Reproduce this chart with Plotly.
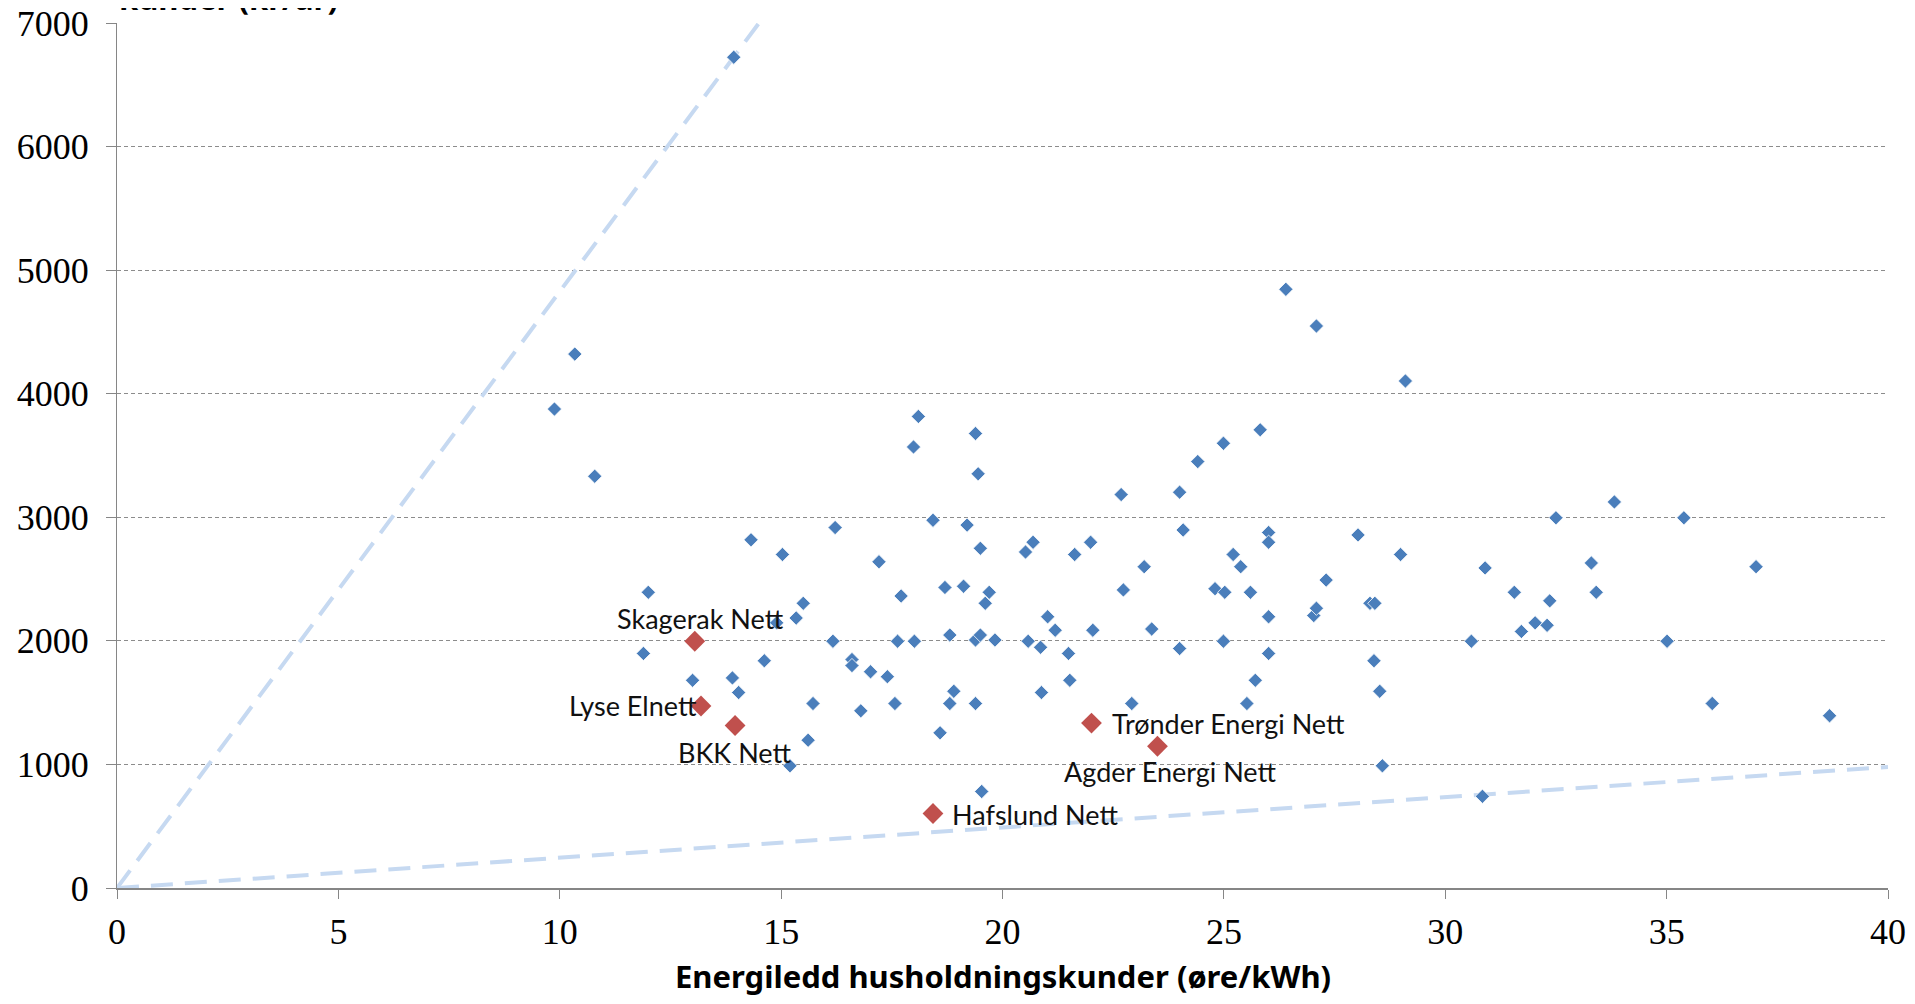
import plotly.graph_objects as go

# Blue points: (energiledd øre/kWh, fastledd kr/år)
blue_x = [13.93, 10.34, 9.88, 10.79, 12.0, 11.89, 13.0, 13.9, 14.04, 14.32, 15.03, 14.9, 14.62, 15.34,
          15.5, 15.2, 15.61, 15.72, 16.22, 16.17, 16.6, 16.6, 16.8, 17.02, 17.21, 17.4, 17.57, 17.63,
          17.71, 17.99, 18.1, 18.01, 18.43, 18.59, 18.7, 18.81, 18.81, 18.9, 19.12, 19.2, 19.39, 19.45,
          19.5, 19.61, 19.39, 19.39, 19.5, 19.7, 19.83, 19.53, 20.52, 20.69, 20.58, 20.86, 20.88, 21.02,
          21.19, 21.49, 21.52, 21.63, 21.99, 22.04, 22.68, 22.73, 22.92, 23.2, 23.37, 24.0, 24.08, 24.0,
          24.41, 24.8, 25.02, 24.99, 24.99, 25.21, 25.38, 25.52, 25.6, 25.71, 25.82, 26.01, 26.01, 26.01,
          26.01, 26.4, 27.09, 27.03, 27.09, 27.31, 28.03, 28.3, 28.41, 28.39, 28.52, 28.58, 28.99, 29.1,
          30.59, 30.9, 30.84, 31.56, 31.72, 32.03, 32.3, 32.36, 32.5, 33.3, 33.41, 33.82, 35.01, 35.39,
          36.03, 37.02, 38.68]
blue_y = [6723, 4321, 3876, 3332, 2393, 1898, 1681, 1700, 1582, 2818, 2699, 2146, 1839, 2185,
          2304, 989, 1196, 1493, 2917, 1997, 1849, 1800, 1434, 1750, 2640, 1710, 1493, 1997,
          2363, 3569, 3816, 1997, 2976, 1256, 2432, 2047, 1493, 1592, 2442, 2937, 3678, 3352,
          2749, 2304, 1493, 2007, 2047, 2393, 2007, 781, 2719, 2798, 1997, 1948, 1582, 2195,
          2086, 1898, 1681, 2699, 2798, 2086, 3184, 2412, 1493, 2600, 2096, 3203, 2897, 1938,
          3451, 2422, 2393, 3599, 1997, 2699, 2600, 1493, 2393, 1681, 3708, 2877, 2798, 2195,
          1898, 4845, 4548, 2205, 2264, 2492, 2857, 2304, 2304, 1839, 1592, 989, 2699, 4103,
          1997, 2590, 742, 2393, 2076, 2146, 2126, 2324, 2996, 2630, 2393, 3124, 1997, 2996,
          1493, 2600, 1394]

# Highlighted companies
red_names = ["Skagerak Nett", "Lyse Elnett", "BKK Nett", "Trønder Energi Nett", "Agder Energi Nett", "Hafslund Nett"]
red_x = [13.05, 13.19, 13.96, 22.01, 23.5, 18.43]
red_y = [1997, 1473, 1315, 1335, 1147, 603]

# Reference lines through origin
upper_line_x = [0, 14.5]
upper_line_y = [0, 7000]
lower_line_x = [0, 40]
lower_line_y = [0, 980]

x_ticks = [0, 5, 10, 15, 20, 25, 30, 35, 40]
y_ticks = [0, 1000, 2000, 3000, 4000, 5000, 6000, 7000]

x_title = "Energiledd husholdningskunder (øre/kWh)"
y_title = "kunder (kr/år)"

# label placement (layout only): xanchor, yanchor, xshift, yshift
label_place = [
    ("center", "bottom", 6, 4),
    ("right", "middle", -2, 0),
    ("center", "top", 0, -8),
    ("left", "middle", 19, 0),
    ("center", "top", 13, -7),
    ("left", "middle", 17, -1),
]

W, H = 1899, 988
L, R, T, B = 109, 19, 15, 108

fig = go.Figure()

line_style = dict(color="#C6D9F1", width=4, dash="22px,12px")
fig.add_trace(go.Scatter(x=upper_line_x, y=upper_line_y, mode="lines", line=line_style,
                         hoverinfo="skip", showlegend=False))
fig.add_trace(go.Scatter(x=lower_line_x, y=lower_line_y, mode="lines", line=line_style,
                         hoverinfo="skip", showlegend=False))

fig.add_trace(go.Scatter(
    x=blue_x, y=blue_y, mode="markers",
    marker=dict(symbol="diamond", size=11, color="#4A7EBB", line=dict(color="white", width=0.8)),
    showlegend=False))

fig.add_trace(go.Scatter(
    x=red_x, y=red_y, mode="markers",
    marker=dict(symbol="diamond", size=16, color="#C0504D"),
    showlegend=False, cliponaxis=False))

for name, xv, yv, (xa, ya, xs, ys) in zip(red_names, red_x, red_y, label_place):
    fig.add_annotation(x=xv, y=yv, text=name, showarrow=False, xanchor=xa, yanchor=ya,
                       xshift=xs, yshift=ys,
                       font=dict(family="Lato", size=27, color="#111111"))

fig.update_layout(
    width=W, height=H,
    margin=dict(l=L, r=R, t=T, b=B, autoexpand=False),
    paper_bgcolor="white", plot_bgcolor="white",
    font=dict(family="Liberation Serif", size=36, color="black"),
)

fig.update_xaxes(
    range=[0, 40], tickvals=x_ticks, ticktext=[str(v) for v in x_ticks],
    showgrid=False, zeroline=False,
    showline=True, linecolor="#868686", linewidth=2,
    ticks="outside", ticklen=9, tickcolor="#868686", tickwidth=1,
    ticklabelstandoff=2, ticklabeloverflow="allow",
    tickfont=dict(family="Liberation Serif", size=36, color="black"),
)
fig.update_yaxes(
    range=[0, 7000], tickvals=y_ticks, ticktext=[str(v) for v in y_ticks],
    showgrid=True, gridcolor="#8C8C8C", griddash="4px,3px", gridwidth=1,
    zeroline=False,
    showline=True, linecolor="#868686", linewidth=1,
    ticks="outside", ticklen=10, tickcolor="#868686", tickwidth=1,
    ticklabelstandoff=10, ticklabeloverflow="allow",
    tickfont=dict(family="Liberation Serif", size=36, color="black"),
)

plot_h = H - T - B
fig.add_annotation(
    text=x_title, xref="paper", yref="paper", x=0.5, y=-(H - T - plot_h) / plot_h,
    xanchor="center", yanchor="bottom", yshift=-3, showarrow=False,
    font=dict(family="Noto Sans", size=31, color="black", weight="bold"),
)
fig.add_annotation(
    text=y_title, xref="paper", yref="paper", x=0, y=1, xanchor="left", yanchor="bottom",
    yshift=2, showarrow=False,
    font=dict(family="Noto Sans", size=31, color="black", weight="bold"),
)

fig.write_html("out.html")
